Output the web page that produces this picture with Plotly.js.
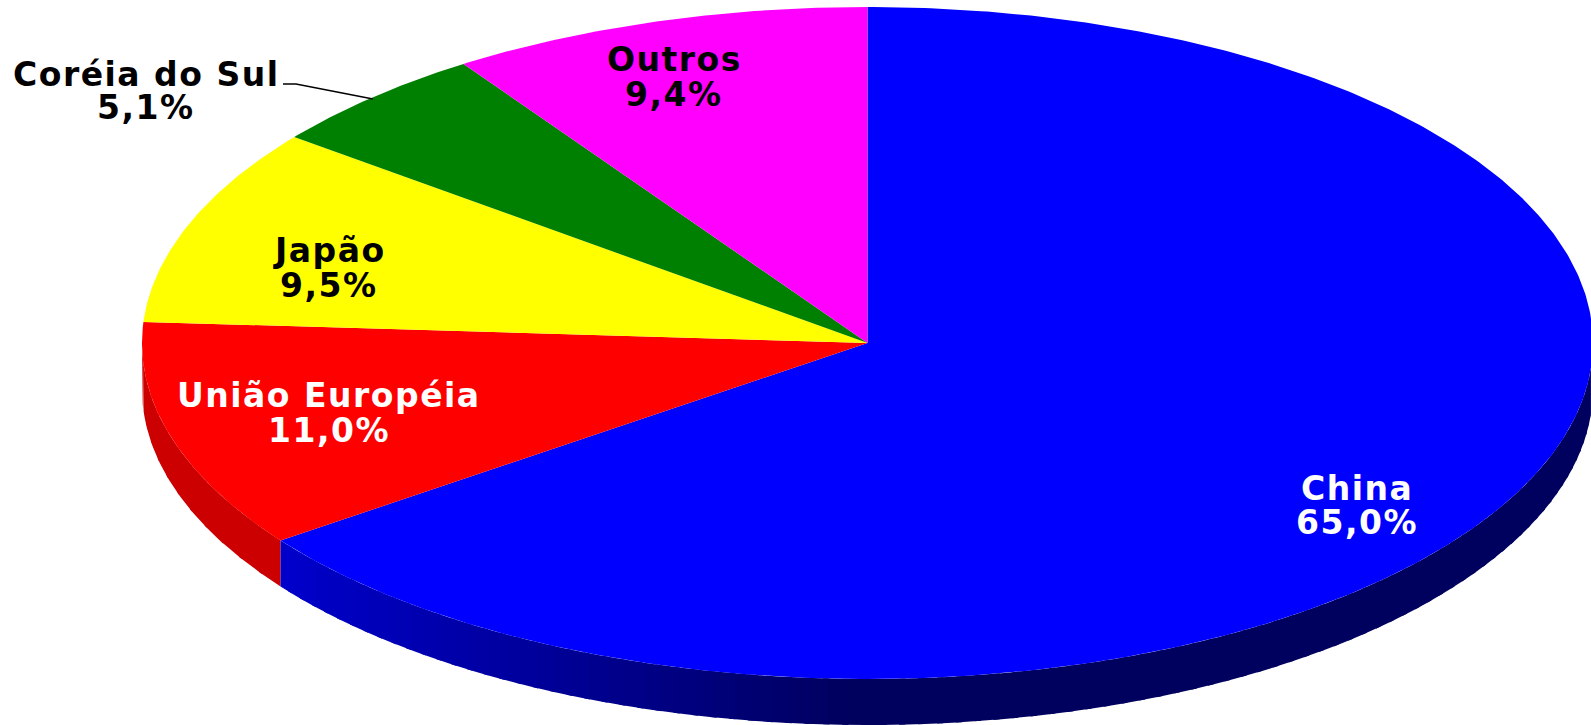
<!DOCTYPE html>
<html><head><meta charset="utf-8">
<script src="https://cdn.plot.ly/plotly-3.0.1.min.js"></script>
<style>html,body{margin:0;padding:0;background:#fff;overflow:hidden}#c{width:1591px;height:725px}
.annotation-text{letter-spacing:1.5px}</style>
</head><body><div id="c"></div>
<script>
const categories = ["China","União Européia","Japão","Coréia do Sul","Outros"];
const shares = [65.0,11.0,9.5,5.1,9.4];
const shareLabels = ["65,0%","11,0%","9,5%","5,1%","9,4%"];
const topColors = ["#0000ff","#ff0000","#ffff00","#008000","#ff00ff"];
const textColors = ["#ffffff","#ffffff","#000000","#000000","#000000"];
const labelX = [1357,329,329,146,674];
const labelNameY = [488,395,250,74,60];
const labelValueY = [522,430,285,108,94];

const W=1591,H=725,CX=867.5,CY=343,RX=725.5,RY=336,DEPTH=46;
const xr=[-CX/RX,(W-CX)/RX], yr=[(CY-H)/RY,CY/RY], d=DEPTH/RY;
const FONT='"DejaVu Sans", sans-serif', FS=33;
const pt=a=>{const r=a*Math.PI/180;return [Math.sin(r),Math.cos(r)];};
const traces=[];
const fill=(xs,ys,c)=>traces.push({type:'scatter',mode:'lines',x:xs,y:ys,fill:'toself',fillcolor:c,line:{width:0},hoverinfo:'skip',showlegend:false});

let cum=[0]; shares.forEach(s=>cum.push(cum[cum.length-1]+s));
const ang=cum.map(v=>v*3.6);

function wall(a0,a1,color){
  const xs=[],ys=[];
  const n=Math.max(2,Math.ceil(Math.abs(a1-a0)));
  for(let i=0;i<=n;i++){const [x,y]=pt(a0+(a1-a0)*i/n);xs.push(x);ys.push(y);}
  for(let i=n;i>=0;i--){const [x,y]=pt(a0+(a1-a0)*i/n);xs.push(x);ys.push(y-d);}
  xs.push(xs[0]);ys.push(ys[0]);
  fill(xs,ys,color);
}
// red wall, then blue wall, shaded by horizontal position
const shade=(a,lo,hi)=>{const px=CX+RX*pt(a)[0];const t=Math.min(1,Math.max(0,(px-277)/(850-277)));return Math.round(lo+(hi-lo)*t);};
for(let a=270;a>ang[1];a-=3){wall(Math.max(a-3.4,ang[1]),a,'rgb(204,0,0)');}
for(let a=90;a<ang[1];a+=1.5){const m=a+0.75;wall(a,Math.min(a+2,ang[1]),'rgb(0,0,'+shade(m,204,95)+')');}

// top face
shares.forEach((s,i)=>{
  const xs=[0],ys=[0],n=Math.ceil(ang[i+1]-ang[i])*2;
  for(let k=0;k<=n;k++){const [x,y]=pt(ang[i]+(ang[i+1]-ang[i])*k/n);xs.push(x);ys.push(y);}
  xs.push(0);ys.push(0);
  fill(xs,ys,topColors[i]);
});

// leader line for Coréia do Sul
const toX=p=>(p-CX)/RX,toY=p=>(CY-p)/RY;
traces.push({type:'scatter',mode:'lines',x:[283,296,373].map(toX),y:[84,84,99].map(toY),line:{color:'#000',width:1.5},hoverinfo:'skip',showlegend:false});

const annotations=[];
categories.forEach((c,i)=>{
  [[c,labelNameY[i]],[shareLabels[i],labelValueY[i]]].forEach(([t,py])=>annotations.push({
    xref:'paper',yref:'paper',x:labelX[i]/W,y:1-py/H,xanchor:'center',yanchor:'middle',showarrow:false,
    text:'<b>'+t+'</b>',font:{family:FONT,size:FS,color:textColors[i]}}));
});

Plotly.newPlot('c',traces,{
  width:W,height:H,margin:{l:0,r:0,t:0,b:0},paper_bgcolor:'#fff',plot_bgcolor:'#fff',showlegend:false,
  xaxis:{visible:false,range:xr,fixedrange:true},yaxis:{visible:false,range:yr,fixedrange:true},
  annotations:annotations,hovermode:false
},{displayModeBar:false,staticPlot:true});
</script></body></html>
